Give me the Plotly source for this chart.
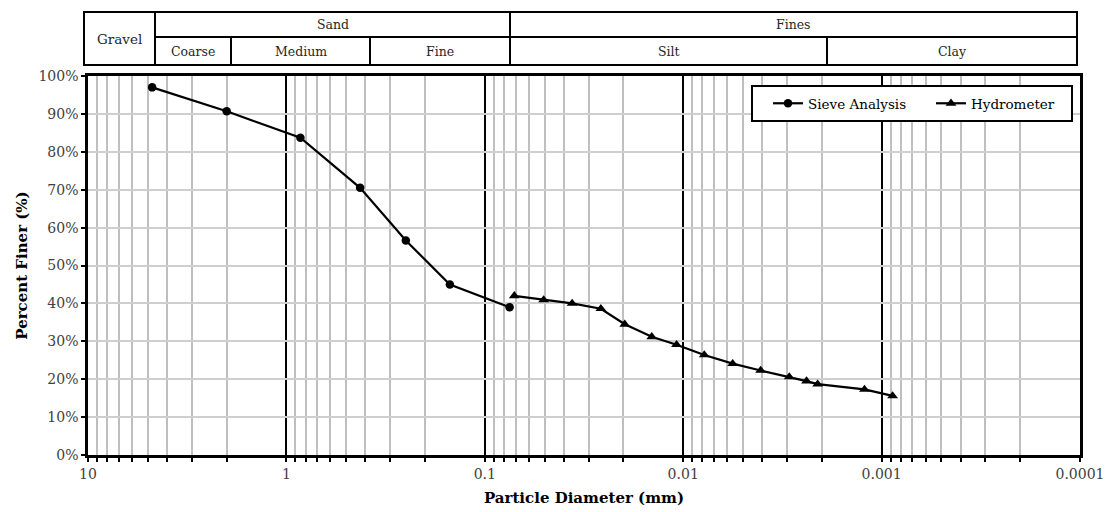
import numpy as np
import plotly.graph_objects as go

# ---------------- data ----------------
sieve_d = [4.75, 2.0, 0.85, 0.425, 0.25, 0.15, 0.075]
sieve_p = [97.0, 90.7, 83.7, 70.5, 56.6, 45.0, 39.0]

hydro_d = [0.0710, 0.0505, 0.0363, 0.0260, 0.0197, 0.0144, 0.0108, 0.00783,
           0.00563, 0.00407, 0.00292, 0.00239, 0.00210, 0.00122, 0.00088]
hydro_p = [42.0, 40.9, 40.0, 38.6, 34.5, 31.2, 29.1, 26.4,
           24.1, 22.3, 20.6, 19.5, 18.7, 17.3, 15.6]

x_tick_vals = [10, 1, 0.1, 0.01, 0.001, 0.0001]
x_tick_text = ["10", "1", "0.1", "0.01", "0.001", "0.0001"]
y_tick_vals = [0, 10, 20, 30, 40, 50, 60, 70, 80, 90, 100]
y_tick_text = ["0%", "10%", "20%", "30%", "40%", "50%", "60%", "70%", "80%", "90%", "100%"]

# header table: (label, left px, right px, top px, bottom px, size)
header_cells = [
    ("Gravel", 84, 155, 12, 65, 13.5),
    ("Sand", 155, 510, 12, 37, 12.5),
    ("Coarse", 155, 231, 37, 65, 12.5),
    ("Medium", 231, 370, 37, 65, 12.5),
    ("Fine", 370, 510, 37, 65, 12.5),
    ("Fines", 510, 1077, 12, 37, 12.5),
    ("Silt", 510, 827, 37, 65, 12.5),
    ("Clay", 827, 1077, 37, 65, 12.5),
]

FONT = "DejaVu Serif"
W, H = 1105, 512
L, R, T, B = 88, 25, 76, 57
PW, PH = W - L - R, H - T - B


def px(x):
    return (x - L) / PW


def py(y):
    return (H - B - y) / PH


minor_vals = []
for e in range(-4, 1):
    for k in range(2, 10):
        minor_vals.append(k * 10 ** e)

fig = go.Figure()
fig.add_trace(go.Scatter(
    x=sieve_d, y=sieve_p, mode="lines+markers", name="Sieve Analysis",
    line=dict(color="black", width=2.2),
    marker=dict(symbol="circle", size=8.5, color="black"),
))
fig.add_trace(go.Scatter(
    x=hydro_d, y=hydro_p, mode="lines+markers", name="Hydrometer",
    line=dict(color="black", width=2.2),
    marker=dict(symbol="triangle-up", size=9.5, color="black"),
))

shapes = []
annotations = []
for label, x0, x1, y0, y1, fs in header_cells:
    shapes.append(dict(type="rect", xref="paper", yref="paper",
                       x0=px(x0), x1=px(x1), y0=py(y1), y1=py(y0),
                       line=dict(color="black", width=2)))
    annotations.append(dict(text=label, xref="paper", yref="paper",
                            x=px((x0 + x1) / 2), y=py((y0 + y1) / 2),
                            showarrow=False, xanchor="center", yanchor="middle",
                            font=dict(family=FONT, size=fs, color="#262626")))

# legend frame
shapes.append(dict(type="rect", xref="paper", yref="paper", layer="above",
                   x0=px(752), x1=px(1072), y0=py(121), y1=py(86),
                   fillcolor="white", line=dict(color="black", width=2)))

fig.update_layout(
    width=W, height=H,
    margin=dict(l=L, r=R, t=T, b=B, autoexpand=False),
    paper_bgcolor="white", plot_bgcolor="white",
    font=dict(family=FONT, size=14, color="#404040"),
    shapes=shapes, annotations=annotations,
    legend=dict(x=px(768), y=py(103.5), xanchor="left", yanchor="middle",
                orientation="h", bgcolor="rgba(0,0,0,0)", borderwidth=0,
                font=dict(family=FONT, size=13.5, color="black"),
                itemwidth=30, entrywidth=118),
    showlegend=True,
)

fig.update_xaxes(
    type="log", range=[1, -4],
    tickvals=x_tick_vals, ticktext=x_tick_text,
    showgrid=True, gridcolor="black", gridwidth=1.5,
    showline=True, linecolor="black", linewidth=2.5, mirror=True,
    ticks="outside", ticklen=4, tickwidth=1.5, tickcolor="black",
    tickfont=dict(family=FONT, size=14, color="#404040"),
    minor=dict(tickvals=minor_vals, showgrid=True, gridcolor="#BFBFBF",
               gridwidth=1.5, ticks="outside", ticklen=4, tickwidth=1.5,
               tickcolor="black"),
    title=dict(text="<b>Particle Diameter (mm)</b>", standoff=12,
               font=dict(family=FONT, size=15, color="black")),
    zeroline=False,
)
fig.update_yaxes(
    range=[0, 100], tickvals=y_tick_vals, ticktext=y_tick_text,
    showgrid=True, gridcolor="#CFCFCF", gridwidth=1.5,
    showline=True, linecolor="black", linewidth=2.5, mirror=True,
    ticks="outside", ticklen=4, tickwidth=1.5, tickcolor="black",
    tickfont=dict(family=FONT, size=14, color="#404040"),
    title=dict(text="<b>Percent Finer (%)</b>", standoff=8,
               font=dict(family=FONT, size=15, color="black")),
    zeroline=False,
)

fig.write_html("out.html")
